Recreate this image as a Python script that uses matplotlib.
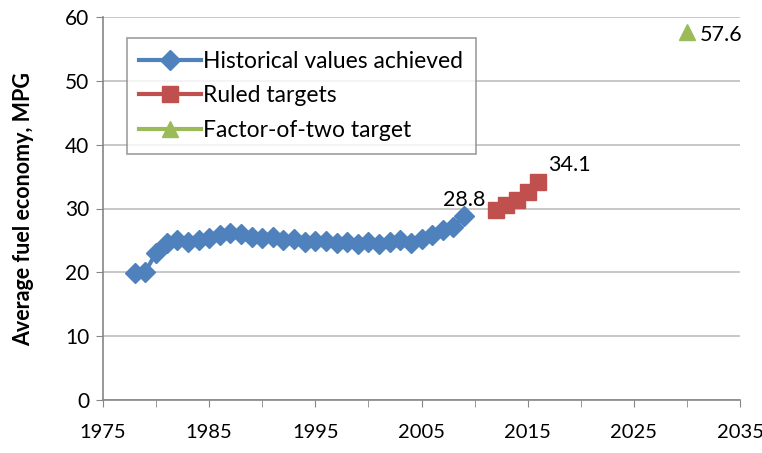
import numpy as np
import matplotlib.pyplot as plt

hist_years = list(range(1978, 2010))
hist_mpg = [19.9, 20.1, 23.1, 24.6, 25.1, 24.8, 25.0, 25.4, 25.9, 26.2,
            26.0, 25.6, 25.4, 25.6, 25.1, 25.2, 24.7, 24.9, 24.9, 24.6,
            24.7, 24.5, 24.8, 24.5, 24.7, 25.1, 24.6, 25.3, 25.8, 26.6,
            27.1, 28.8]
ruled_years = [2012, 2013, 2014, 2015, 2016]
ruled_mpg = [29.7, 30.5, 31.3, 32.6, 34.1]
f2_years = [2030]
f2_mpg = [57.6]

plt.rcParams['font.family'] = ['Lato', 'DejaVu Sans']

fig = plt.figure(figsize=(7.62, 4.53), dpi=100)
ax = fig.add_axes([103 / 762, 53 / 453, 637 / 762, 383 / 453])

blue = '#4F81BD'
red = '#C0504D'
green = '#9BBB59'

ax.plot(hist_years, hist_mpg, color=blue, lw=3, marker='D', ms=10,
        label='Historical values achieved', zorder=3)
ax.plot(ruled_years, ruled_mpg, color=red, lw=3, marker='s', ms=11,
        label='Ruled targets', zorder=3)
ax.plot(f2_years, f2_mpg, color=green, lw=3, marker='^', ms=11,
        label='Factor-of-two target', zorder=3)

ax.annotate(f'{hist_mpg[-1]:.1f}', (hist_years[-1], hist_mpg[-1]),
            xytext=(-15, 7), textcoords='offset points', fontsize=15.5)
ax.annotate(f'{ruled_mpg[-1]:.1f}', (ruled_years[-1], ruled_mpg[-1]),
            xytext=(7, 8), textcoords='offset points', fontsize=15.5)
ax.annotate(f'{f2_mpg[-1]:.1f}', (f2_years[-1], f2_mpg[-1]),
            xytext=(9, -6), textcoords='offset points', fontsize=15.5)

ax.set_xlim(1975, 2035)
ax.set_ylim(0, 60)
ax.set_xticks(range(1975, 2036, 10))
ax.set_xticks(range(1975, 2036, 5), minor=True)
ax.set_yticks(range(0, 61, 10))
ax.tick_params(axis='both', which='both', direction='out', color='#868686',
               labelsize=15, length=5)
ax.tick_params(axis='x', labelsize=14.5, pad=12)
ax.tick_params(axis='y', pad=5)
ax.yaxis.grid(True, color='#BFBFBF', lw=1.2)
ax.set_axisbelow(True)
for s in ['top', 'right']:
    ax.spines[s].set_visible(False)
for s in ['left', 'bottom']:
    ax.spines[s].set_color('#868686')
    ax.spines[s].set_linewidth(1.2)

ax.set_ylabel('Average fuel economy, MPG', fontsize=15.5, fontweight='bold',
              labelpad=22)

leg = ax.legend(loc='upper left', bbox_to_anchor=(0.037, 0.945), fontsize=16.5,
                frameon=True, fancybox=False, edgecolor='#868686',
                borderpad=0.55, handlelength=2.7, handletextpad=0.1,
                labelspacing=0.6, borderaxespad=0)
leg.get_frame().set_linewidth(1.2)

fig.savefig('out.png', dpi=100)
